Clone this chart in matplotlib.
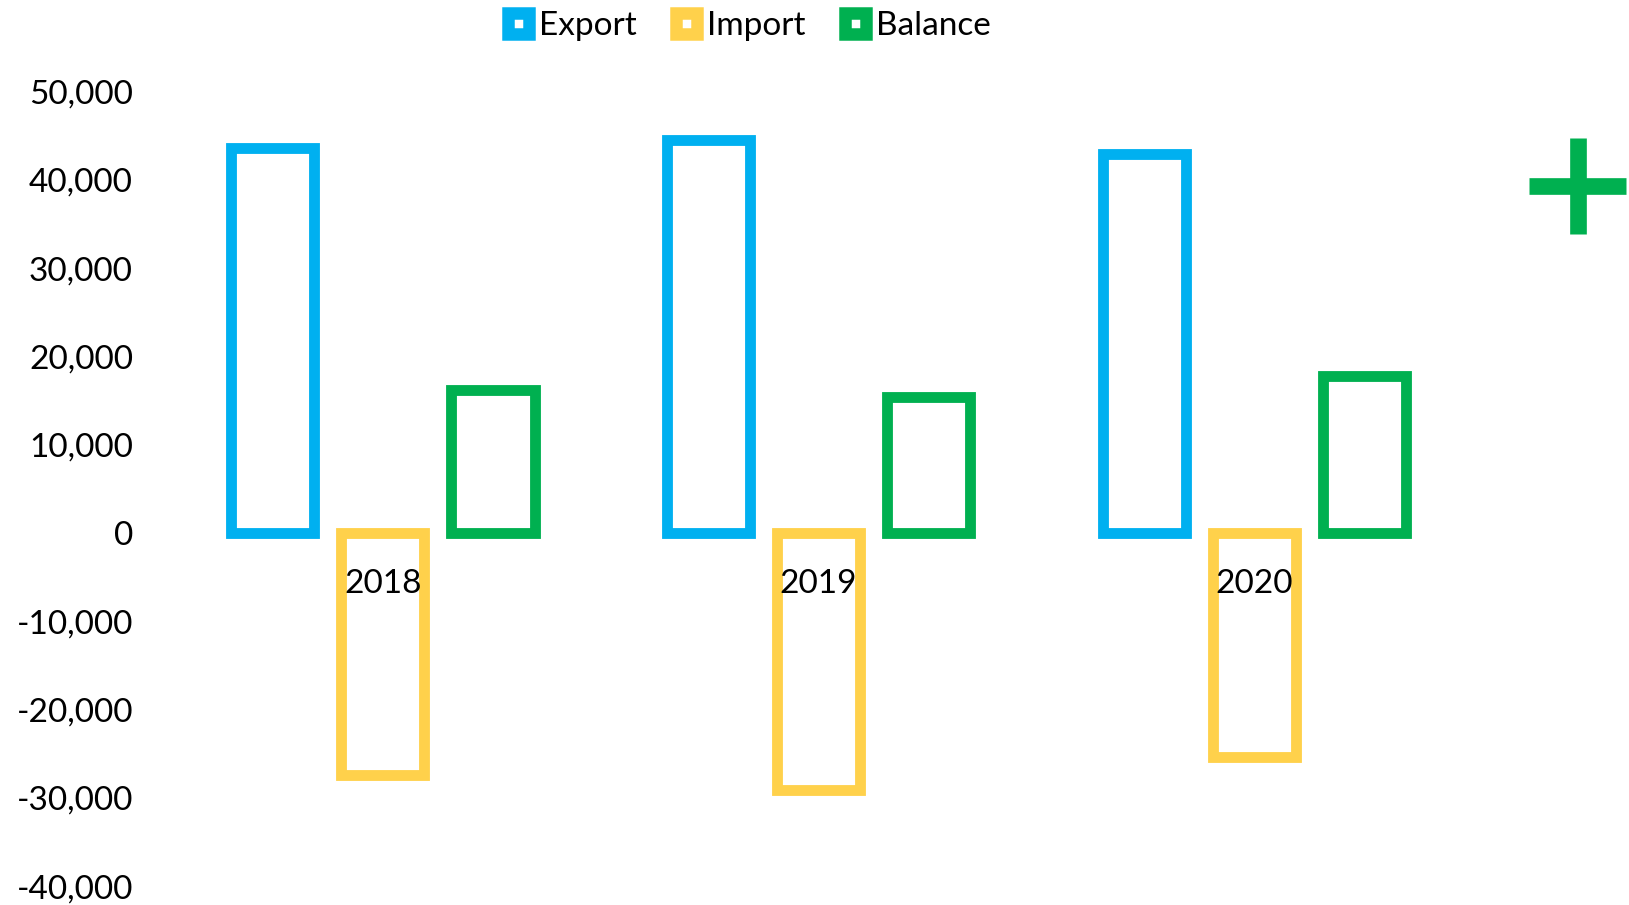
import matplotlib.pyplot as plt
from matplotlib.patches import Patch
from matplotlib.lines import Line2D
from matplotlib.ticker import FuncFormatter
import numpy as np

# values
years = ['2018', '2019', '2020']
export = [43600, 44500, 42900]
imports = [-27400, -29100, -25400]
balance = [16200, 15400, 17800]

colors = {'Export': '#00B0F0', 'Import': '#FFD14B', 'Balance': '#00B050'}

plt.rcParams['font.family'] = ['Lato', 'DejaVu Sans']

fig = plt.figure(figsize=(16.29, 9.05), dpi=100)
ax = fig.add_axes([0.1012, 0.0207, 0.8026, 0.8783])

x = np.arange(len(years))
step = 0.253
width = 0.191
series = [('Export', export), ('Import', imports), ('Balance', balance)]
for i, (name, vals) in enumerate(series):
    ax.bar(x + (i - 1) * step, vals, width, facecolor='none',
           edgecolor=colors[name], linewidth=7.8, label=name)

ax.set_xlim(-0.5, 2.5)
ax.set_ylim(-40000, 50000)
ax.set_yticks(np.arange(-40000, 50001, 10000))
ax.yaxis.set_major_formatter(FuncFormatter(lambda v, p: f'{int(v):,}'))
ax.set_xticks(x)
ax.set_xticklabels(years)

for s in ax.spines.values():
    s.set_visible(False)
ax.spines['bottom'].set_position(('data', 0))
ax.tick_params(axis='y', length=0, pad=23, labelsize=24)
ax.tick_params(axis='x', length=0, pad=26, labelsize=24)

# legend with thick-border square markers
handles = [Patch(facecolor='white', edgecolor=colors[n], linewidth=9, label=n)
           for n, _ in series]
fig.legend(handles=handles, loc='center', bbox_to_anchor=(0.46, 0.971), ncol=3,
           frameon=False, fontsize=24, handlelength=0.62, handleheight=0.62,
           handletextpad=0.3, columnspacing=1.2)

# green plus on the right
fig.add_artist(Line2D([1529 / 1629, 1626 / 1629], [1 - 186 / 905, 1 - 186 / 905],
                      color='#00B050', linewidth=12, solid_capstyle='butt'))
fig.add_artist(Line2D([1578 / 1629, 1578 / 1629], [1 - 138 / 905, 1 - 234 / 905],
                      color='#00B050', linewidth=12, solid_capstyle='butt'))

fig.savefig('out.png', dpi=100)
